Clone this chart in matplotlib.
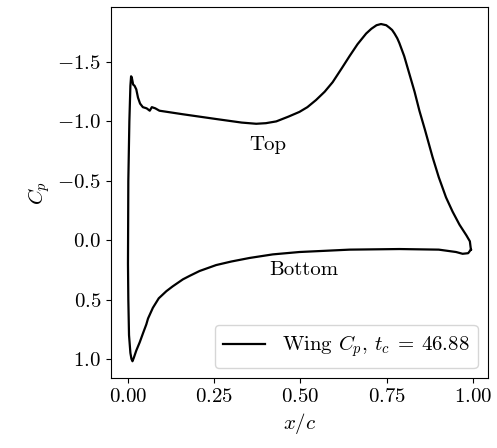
import numpy as np
import matplotlib.pyplot as plt

plt.rcParams['font.family'] = 'serif'
plt.rcParams['font.serif'] = ['cmr10']
plt.rcParams['mathtext.fontset'] = 'cm'
plt.rcParams['axes.formatter.use_mathtext'] = True
plt.rcParams['font.size'] = 15

# upper surface, leading edge -> trailing edge
x_top = [0.001, 0.002, 0.005, 0.008, 0.010, 0.012, 0.016, 0.020, 0.025, 0.030,
         0.036, 0.044, 0.055, 0.064, 0.070, 0.080, 0.092, 0.160, 0.256, 0.330,
         0.372, 0.400, 0.430, 0.465, 0.497, 0.520, 0.545, 0.570, 0.593, 0.620,
         0.642, 0.665, 0.690, 0.705, 0.720, 0.733, 0.748, 0.757, 0.765, 0.772,
         0.780, 0.786, 0.800, 0.815, 0.830, 0.844, 0.860, 0.882, 0.900, 0.921,
         0.940, 0.960, 0.980, 0.990, 0.993]
cp_top = [0.20, -0.50, -1.00, -1.30, -1.38, -1.37, -1.31, -1.30, -1.27, -1.20,
          -1.15, -1.12, -1.11, -1.09, -1.12, -1.11, -1.09, -1.06, -1.02, -0.99,
          -0.98, -0.985, -1.00, -1.04, -1.08, -1.12, -1.18, -1.25, -1.33, -1.45,
          -1.55, -1.65, -1.74, -1.78, -1.81, -1.82, -1.81, -1.79, -1.77, -1.74,
          -1.70, -1.66, -1.55, -1.40, -1.25, -1.09, -0.93, -0.70, -0.53, -0.36,
          -0.24, -0.13, -0.04, 0.01, 0.08]

# lower surface, leading edge -> trailing edge
x_bot = [0.002, 0.004, 0.008, 0.011, 0.014, 0.018, 0.025, 0.035, 0.045, 0.054,
         0.059, 0.073, 0.090, 0.112, 0.130, 0.160, 0.180, 0.208, 0.256, 0.300,
         0.353, 0.420, 0.497, 0.570, 0.642, 0.700, 0.786, 0.900, 0.950, 0.969,
         0.985, 0.993]
cp_bot = [0.50, 0.80, 0.95, 1.00, 1.02, 0.99, 0.93, 0.86, 0.78, 0.71,
          0.66, 0.57, 0.49, 0.43, 0.39, 0.33, 0.30, 0.26, 0.21, 0.18,
          0.15, 0.12, 0.10, 0.09, 0.08, 0.078, 0.075, 0.08, 0.10, 0.115,
          0.11, 0.08]

t_c = 46.88

x = np.concatenate([x_top[::-1], x_bot])
cp = np.concatenate([cp_top[::-1], cp_bot])

fig, ax = plt.subplots(figsize=(4.97, 4.48), dpi=100)
fig.subplots_adjust(left=0.223, right=0.982, top=0.984, bottom=0.156)

ax.plot(x, cp, color='black', lw=1.6,
        label=r'Wing $C_p$, $t_c\:=\:%.2f$' % t_c)
ax.invert_yaxis()
ax.set_yticks([-1.5, -1.0, -0.5, 0.0, 0.5, 1.0])
ax.set_xticks([0.0, 0.25, 0.5, 0.75, 1.0])
ax.set_xlabel(r'$x/c$')
ax.set_ylabel(r'$C_p$')
ax.text(0.405, -0.80, 'Top', ha='center', va='center')
ax.text(0.51, 0.25, 'Bottom', ha='center', va='center')
ax.legend(loc='lower right')

fig.savefig('out.png')
